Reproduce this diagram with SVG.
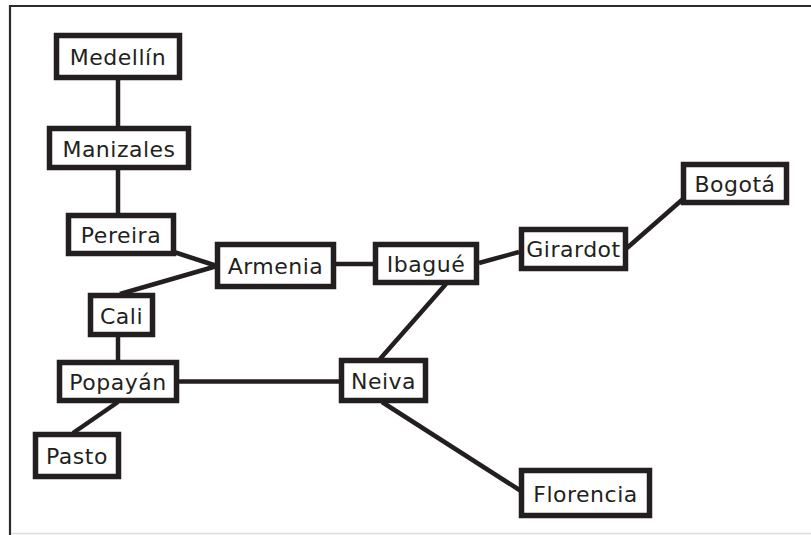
<svg xmlns="http://www.w3.org/2000/svg" width="811" height="535" viewBox="0 0 811 535">
<style>
.box{fill:#fff;stroke:#231f20;stroke-width:5.5}
.lbl{font-family:"DejaVu Sans","Liberation Sans",sans-serif;font-size:22px;fill:#231f20;text-anchor:middle;letter-spacing:0.5px}
.con line{stroke:#231f20;stroke-width:4.5;stroke-linecap:butt}
</style>
<rect width="811" height="535" fill="#fff"/>
<line x1="9" y1="6" x2="811" y2="6" stroke="#2b2b2b" stroke-width="2.2"/>
<line x1="10" y1="5" x2="10" y2="535" stroke="#2b2b2b" stroke-width="2.2"/>
<line x1="11" y1="533.5" x2="811" y2="533.5" stroke="#dcdcdc" stroke-width="1.5"/>
<g id="connectors" class="con">
<line x1="118" y1="80" x2="118" y2="126"/>
<line x1="118" y1="170" x2="118" y2="213"/>
<line x1="174" y1="252" x2="217" y2="266"/>
<line x1="120" y1="294" x2="217" y2="266"/>
<line x1="118" y1="337" x2="118" y2="360"/>
<line x1="336" y1="264" x2="373" y2="264"/>
<line x1="479" y1="263" x2="519" y2="252"/>
<line x1="627" y1="248" x2="683" y2="199"/>
<line x1="446" y1="284" x2="380" y2="359"/>
<line x1="179" y1="381.5" x2="339" y2="381.5"/>
<line x1="118" y1="402" x2="73" y2="433"/>
<line x1="382" y1="402" x2="521" y2="491"/>
</g>
<g id="medellin"><rect class="box" x="56.5" y="35.5" width="123" height="42"/><text class="lbl" x="118" y="65">Medellín</text></g>
<g id="manizales"><rect class="box" x="49.5" y="128.5" width="139" height="39"/><text class="lbl" x="119" y="156.5">Manizales</text></g>
<g id="pereira"><rect class="box" x="68.5" y="215.5" width="105" height="38"/><text class="lbl" x="121" y="242.5">Pereira</text></g>
<g id="armenia"><rect class="box" x="217.5" y="244.5" width="116" height="42"/><text class="lbl" x="275.5" y="273.5">Armenia</text></g>
<g id="cali"><rect class="box" x="90.5" y="295.5" width="62" height="39"/><text class="lbl" x="121.5" y="323.5">Cali</text></g>
<g id="popayan"><rect class="box" x="59.5" y="362.5" width="117" height="38"/><text class="lbl" x="118" y="389.5">Popayán</text></g>
<g id="pasto"><rect class="box" x="35.5" y="434.5" width="83" height="42"/><text class="lbl" x="77" y="463.5">Pasto</text></g>
<g id="ibague"><rect class="box" x="375.5" y="244.5" width="101" height="38"/><text class="lbl" x="426" y="271.5">Ibagué</text></g>
<g id="girardot"><rect class="box" x="521.5" y="229.5" width="104" height="39"/><text class="lbl" x="573.5" y="256.5">Girardot</text></g>
<g id="bogota"><rect class="box" x="683.5" y="164.5" width="103" height="38"/><text class="lbl" x="735" y="191.5">Bogotá</text></g>
<g id="neiva"><rect class="box" x="341.5" y="360.5" width="84" height="40"/><text class="lbl" x="383.5" y="388.5">Neiva</text></g>
<g id="florencia"><rect class="box" x="521.5" y="470.5" width="128" height="45"/><text class="lbl" x="585.5" y="501.5">Florencia</text></g>
</svg>
